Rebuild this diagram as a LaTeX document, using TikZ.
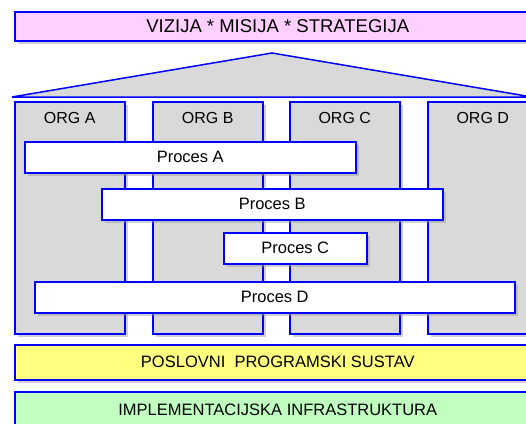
\documentclass[tikz,border=0pt]{standalone}
\usepackage{fontspec}
\setmainfont{Liberation Sans}
\usetikzlibrary{positioning,shadows}

\definecolor{vizpink}{RGB}{255,208,255}
\definecolor{sysyellow}{RGB}{255,255,128}
\definecolor{infgreen}{RGB}{192,255,192}
\definecolor{orggray}{RGB}{217,217,217}

\tikzset{
  box/.style={draw=blue, line width=1.5pt,
    drop shadow={shadow xshift=3pt, shadow yshift=-3pt, fill=black!40, opacity=.45}},
  layer/.style={box, anchor=north west, minimum width=526pt, inner sep=0pt,
    font=\fontsize{16.5}{19}\selectfont},
  orgcol/.style={box, fill=orggray, anchor=north west, inner sep=0pt,
    minimum width=110pt, minimum height=232pt},
  orglabel/.style={font=\fontsize{16}{19}\selectfont},
  procbar/.style={box, fill=white, anchor=north west, inner sep=0pt,
    minimum height=31pt, font=\fontsize{16.5}{19}\selectfont}
}

\begin{document}
\begin{tikzpicture}[x=1pt,y=-1pt]
        \useasboundingbox (0,0) rectangle (526,423);
        \clip (0,0) rectangle (526,423);
        % Top layer
        \node[layer, fill=vizpink, minimum height=29pt, font=\fontsize{18.5}{21}\selectfont]
            (vizija) at (14,11) {VIZIJA * MISIJA * STRATEGIJA};
        % Roof
        \filldraw[fill=orggray, draw=blue, line width=1.5pt] (12,97) -- (272,53) -- (532,97) -- cycle;
        % Organisations
        \foreach \x/\n in {14/A, 152/B, 289/C, 427/D} {
            \node[orgcol] (org\n) at (\x,101) {};
            \node[orglabel, below=8pt of org\n.north] (lab\n) {ORG \n};
        }
        % Processes
        \node[procbar, minimum width=331pt] (procA) at (24,141) {Proces A};
        \node[procbar, minimum width=341pt] (procB) at (101,188) {Proces B};
        \node[procbar, minimum width=143pt] (procC) at (223,232) {Proces C};
        \node[procbar, minimum width=480pt] (procD) at (34,281) {Proces D};
        % Bottom layers
        \node[layer, fill=sysyellow, minimum height=35pt] (sustav) at (14,344) {POSLOVNI\ \ PROGRAMSKI SUSTAV};
        \node[layer, fill=infgreen, minimum height=36pt] (infra) at (14,391) {IMPLEMENTACIJSKA INFRASTRUKTURA};
\end{tikzpicture}
\end{document}
